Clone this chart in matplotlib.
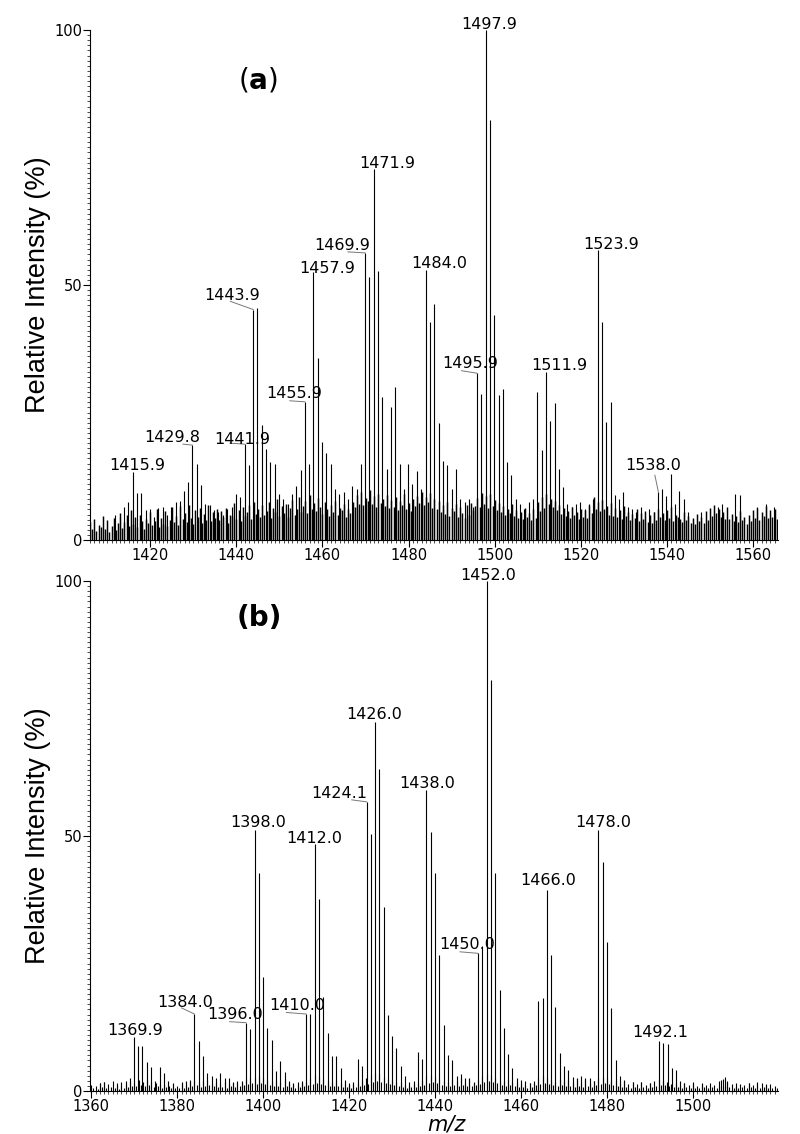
import numpy as np
import matplotlib
matplotlib.use('Agg')
from matplotlib import pyplot as plt
from matplotlib.ticker import MultipleLocator

# ---- spectrum (a): centroid peaks, m/z and relative intensity (%)
mz_a = [1411.9, 1412.9, 1413.9, 1414.9, 1415.9, 1416.9, 1417.9, 1418.9, 1419.9, 1420.9,
        1421.9, 1422.9, 1423.9, 1424.9, 1425.9, 1426.9, 1427.9, 1428.8, 1429.8, 1430.8,
        1431.8, 1432.8, 1433.8, 1434.8, 1435.8, 1436.8, 1437.8, 1438.9, 1439.9, 1440.9,
        1441.9, 1442.9, 1443.9, 1444.9, 1445.9, 1446.9, 1447.9, 1448.9, 1449.9, 1450.9,
        1451.9, 1452.9, 1453.9, 1454.9, 1455.9, 1456.9, 1457.9, 1458.9, 1459.9, 1460.9,
        1461.9, 1462.9, 1463.9, 1464.9, 1465.9, 1466.9, 1467.9, 1468.9, 1469.9, 1470.9,
        1471.9, 1472.9, 1473.9, 1474.9, 1475.9, 1476.9, 1477.9, 1478.9, 1479.9, 1480.9,
        1481.9, 1482.9, 1484.0, 1485.0, 1486.0, 1487.0, 1488.0, 1489.0, 1490.0, 1491.0,
        1492.0, 1493.0, 1494.0, 1494.9, 1495.9, 1496.9, 1497.9, 1498.9, 1499.9, 1500.9,
        1501.9, 1502.9, 1503.9, 1504.9, 1505.9, 1506.9, 1507.9, 1508.9, 1509.9, 1510.9,
        1511.9, 1512.9, 1513.9, 1514.9, 1515.9, 1516.9, 1517.9, 1518.9, 1519.9, 1520.9,
        1521.9, 1522.9, 1523.9, 1524.9, 1525.9, 1526.9, 1527.9, 1528.9, 1529.9, 1530.9,
        1531.9, 1532.9, 1533.9, 1534.9, 1535.9, 1536.9, 1538.0, 1538.9, 1539.9, 1540.9,
        1541.9, 1542.9, 1543.9, 1544.9, 1547.9, 1551.9, 1552.9, 1555.9, 1556.9, 1560.9,
        1562.9, 1564.9]
int_a = [5.0, 4.6, 6.5, 7.5, 13.3, 9.2, 9.2, 5.9, 6.0, 4.5,
         6.3, 6.4, 5.0, 6.5, 7.5, 7.7, 9.7, 11.4, 18.6, 15.0,
         10.8, 7.0, 6.9, 5.8, 5.5, 5.0, 6.0, 6.5, 9.0, 8.5,
         18.8, 14.7, 45.2, 45.4, 22.5, 17.8, 15.2, 15.0, 9.0, 8.0,
         7.0, 9.0, 10.5, 13.7, 27.1, 15.0, 52.5, 35.6, 19.3, 17.1,
         15.0, 10.0, 9.0, 9.5, 8.0, 10.5, 10.0, 15.0, 56.3, 51.6,
         72.7, 52.8, 28.0, 14.0, 26.0, 30.0, 15.0, 10.0, 15.0, 11.0,
         13.5, 10.0, 53.0, 42.8, 46.3, 22.9, 15.5, 14.7, 10.0, 13.9,
         8.0, 7.5, 8.0, 6.5, 32.7, 28.6, 100.0, 82.4, 44.1, 28.4,
         29.7, 15.2, 12.7, 8.0, 7.0, 6.0, 7.5, 8.0, 29.1, 17.6,
         33.0, 23.4, 26.9, 14.0, 10.4, 7.0, 6.5, 7.0, 7.5, 6.0,
         7.0, 8.0, 56.9, 42.8, 23.2, 27.1, 8.8, 8.0, 9.5, 6.5,
         6.0, 5.5, 6.5, 5.0, 6.0, 5.5, 9.5, 10.1, 8.7, 12.9,
         7.0, 9.6, 8.1, 5.5, 5.5, 6.5, 7.0, 9.1, 8.8, 6.5,
         7.0, 6.5]

# baseline noise (a), one reading every 0.5 m/z from 1406.0
noise_a_start = 1406.0
noise_a = [3.5, 2.1, 4.2, 1.8, 3.0, 2.6, 4.8, 2.2, 3.9, 1.5, 2.8, 4.4, 2.0, 3.3, 5.2, 2.4, 3.6, 4.9, 2.7, 5.8,
           3.1, 4.6, 2.5, 5.0, 3.8, 2.2, 4.1, 3.4, 5.5, 2.9, 3.7, 6.1, 2.6, 4.3, 3.2, 5.7, 2.8, 4.0, 6.4, 3.5,
           4.8, 3.0, 6.6, 4.1, 5.3, 3.6, 6.9, 4.4, 3.2, 5.8, 4.6, 6.2, 3.4, 5.1, 4.0, 6.8, 3.7, 5.5, 4.3, 6.0,
           3.9, 5.6, 4.5, 6.3, 3.3, 5.0, 4.8, 7.2, 4.1, 5.9, 3.8, 6.5, 4.7, 5.4, 6.8, 4.2, 7.5, 5.1, 6.0, 4.6,
           6.9, 4.9, 5.7, 7.4, 4.3, 6.2, 5.5, 8.1, 4.8, 6.6, 5.2, 7.0, 4.5, 6.3, 7.8, 5.0, 6.1, 8.4, 5.4, 6.7,
           7.6, 5.3, 8.8, 6.0, 7.2, 5.6, 8.2, 6.4, 5.1, 7.5, 6.1, 4.7, 6.9, 5.4, 7.7, 4.9, 6.3, 5.8, 7.1, 4.6,
           6.0, 5.2, 7.4, 6.5, 8.9, 7.1, 9.5, 6.8, 8.3, 7.6, 9.8, 7.0, 8.6, 6.4, 9.1, 7.3, 8.0, 6.7, 8.8, 6.2,
           7.9, 6.5, 8.4, 5.9, 7.6, 6.8, 9.0, 6.1, 7.3, 5.7, 8.1, 6.6, 8.7, 7.2, 9.4, 6.9, 8.5, 7.4, 9.2, 6.3,
           8.0, 6.0, 7.7, 5.5, 6.9, 5.1, 7.4, 4.8, 6.2, 5.6, 7.1, 4.6, 6.5, 5.3, 4.4, 6.8, 5.0, 7.3, 5.9, 6.6,
           8.2, 6.4, 9.3, 7.0, 8.6, 6.3, 9.0, 6.7, 7.8, 5.8, 7.2, 5.4, 6.6, 4.9, 6.0, 5.2, 7.1, 4.7, 5.8, 4.3,
           5.5, 4.1, 6.3, 4.6, 5.2, 3.9, 6.0, 4.4, 7.4, 5.6, 8.5, 6.2, 9.1, 7.0, 8.0, 6.5, 7.6, 5.9, 6.8, 5.1,
           6.2, 4.8, 5.7, 4.3, 6.5, 4.9, 5.4, 4.1, 6.1, 4.6, 5.8, 4.4, 6.9, 5.3, 8.4, 6.1, 7.5, 5.7, 7.9, 6.0,
           6.6, 5.0, 7.2, 4.7, 6.3, 4.5, 5.9, 4.2, 6.7, 4.8, 5.5, 3.9, 5.1, 4.4, 6.0, 3.8, 5.3, 4.1, 5.6, 3.6,
           4.9, 3.4, 5.4, 4.0, 6.1, 4.5, 5.2, 3.9, 5.8, 4.3, 6.4, 3.7, 5.0, 4.6, 4.2, 3.5, 5.5, 3.9, 4.7, 3.3,
           4.4, 3.1, 5.1, 3.8, 4.6, 3.4, 5.7, 4.0, 6.2, 4.8, 6.8, 5.3, 6.0, 4.5, 5.4, 4.1, 6.5, 4.2, 5.1, 3.7,
           4.8, 3.5, 5.6, 3.9, 4.5, 3.2, 5.0, 3.8, 5.9, 4.3, 6.3, 4.0, 5.5, 4.7, 6.6, 4.4, 5.8, 4.6, 6.1, 4.2]

labels_a = [1415.9, 1429.8, 1441.9, 1443.9, 1455.9, 1457.9, 1469.9,
            1471.9, 1484.0, 1495.9, 1497.9, 1511.9, 1523.9, 1538.0]

# ---- spectrum (b)
mz_b = [1362.0, 1363.0, 1366.0, 1367.0, 1368.0, 1368.9, 1369.9, 1370.9, 1371.9, 1372.9,
        1373.9, 1374.9, 1375.9, 1376.9, 1377.9, 1379.0, 1381.0, 1382.0, 1383.0, 1384.0,
        1385.0, 1386.0, 1387.0, 1388.0, 1389.0, 1390.0, 1391.0, 1392.0, 1393.0, 1394.0,
        1395.0, 1396.0, 1397.0, 1398.0, 1399.0, 1400.0, 1401.0, 1402.0, 1403.0, 1404.0,
        1405.0, 1406.0, 1407.0, 1408.0, 1409.0, 1410.0, 1411.0, 1412.0, 1413.0, 1414.0,
        1415.0, 1416.0, 1417.0, 1418.0, 1419.0, 1420.0, 1421.0, 1422.1, 1423.1, 1424.1,
        1425.1, 1426.0, 1427.0, 1428.0, 1429.0, 1430.0, 1431.0, 1432.0, 1433.0, 1434.0,
        1435.0, 1436.0, 1437.0, 1438.0, 1439.0, 1440.0, 1441.0, 1442.0, 1443.0, 1444.0,
        1445.0, 1446.0, 1447.0, 1448.0, 1449.0, 1450.0, 1451.0, 1452.0, 1453.0, 1454.0,
        1455.0, 1456.0, 1457.0, 1458.0, 1459.0, 1460.0, 1461.0, 1462.0, 1463.0, 1464.0,
        1465.0, 1466.0, 1467.0, 1468.0, 1469.0, 1470.0, 1471.0, 1472.0, 1473.0, 1474.0,
        1475.0, 1476.0, 1477.0, 1478.0, 1479.0, 1480.0, 1481.0, 1482.0, 1483.0, 1484.0,
        1486.0, 1488.0, 1490.0, 1492.1, 1493.1, 1494.1, 1495.1, 1496.1, 1497.1, 1498.0,
        1500.0, 1502.0, 1506.5, 1507.4, 1508.0, 1510.0, 1513.0, 1515.0, 1517.0]
int_b = [1.5, 1.8, 1.5, 1.8, 2.0, 2.5, 10.5, 8.8, 8.9, 5.6,
         4.7, 2.0, 4.8, 3.5, 2.0, 1.5, 1.8, 2.0, 2.2, 15.1,
         9.8, 6.9, 3.5, 2.9, 2.5, 3.5, 2.5, 2.6, 1.8, 1.6,
         1.8, 13.4, 12.1, 51.2, 42.7, 22.3, 12.3, 10.0, 4.0, 5.9,
         3.8, 2.0, 1.6, 1.8, 1.9, 15.1, 15.1, 48.4, 37.6, 18.5,
         11.4, 6.9, 6.8, 4.5, 2.2, 1.6, 1.8, 6.2, 4.9, 56.7,
         50.4, 72.4, 63.1, 36.1, 14.9, 10.8, 8.4, 4.9, 2.9, 1.8,
         2.0, 7.6, 6.2, 59.0, 50.8, 42.7, 26.7, 12.9, 7.1, 6.1,
         2.9, 3.3, 2.5, 2.5, 1.8, 27.0, 28.4, 100.0, 80.6, 42.7,
         19.8, 12.3, 7.2, 4.5, 2.5, 2.2, 2.0, 1.6, 1.5, 17.7,
         18.2, 39.4, 26.7, 16.5, 7.5, 4.9, 4.1, 2.8, 2.5, 3.0,
         2.6, 2.5, 2.0, 51.2, 45.0, 29.3, 16.2, 6.1, 2.9, 2.2,
         1.8, 1.7, 1.5, 9.8, 9.5, 9.3, 4.5, 4.1, 2.0, 1.6,
         1.8, 1.5, 2.2, 2.7, 2.0, 1.6, 1.5, 1.7, 1.4]

noise_b_start = 1360.0
noise_b = [1.2, 0.6, 0.9, 0.4, 1.5, 0.7, 1.8, 0.5, 1.3, 0.8, 2.0, 0.6, 1.1, 0.4, 0.9, 0.5, 1.4, 0.7, 1.9, 1.0,
           1.6, 0.9, 2.1, 1.2, 1.8, 1.0, 2.3, 1.1, 1.7, 0.8, 1.5, 0.9, 1.3, 0.6, 1.2, 0.7, 1.0, 0.5, 1.4, 0.6,
           0.9, 0.5, 1.3, 0.6, 1.1, 0.8, 1.7, 0.9, 2.0, 1.1, 1.6, 0.8, 1.9, 1.0, 2.2, 1.2, 1.5, 0.9, 1.8, 0.7,
           1.4, 0.8, 1.7, 0.6, 1.3, 0.9, 1.6, 0.7, 1.9, 1.0, 2.0, 1.2, 2.4, 1.3, 2.6, 1.5, 2.8, 1.4, 3.0, 1.6,
           2.5, 1.3, 2.2, 1.1, 1.9, 1.0, 2.1, 0.9, 1.8, 0.8, 2.3, 1.0, 1.6, 0.7, 1.4, 0.6, 1.2, 0.8, 1.5, 0.9,
           1.8, 1.2, 2.6, 1.4, 3.1, 1.6, 2.7, 1.3, 2.4, 1.2, 2.0, 1.0, 1.7, 0.9, 2.2, 1.0, 1.5, 0.8, 1.3, 0.7,
           1.1, 0.6, 1.4, 0.7, 1.6, 0.9, 2.0, 1.1, 2.5, 1.4, 3.2, 1.8, 3.6, 2.0, 3.3, 1.7, 2.8, 1.5, 2.4, 1.3,
           2.1, 1.1, 1.8, 0.9, 1.5, 0.8, 1.2, 0.6, 1.0, 0.7, 1.3, 0.8, 1.6, 0.9, 2.2, 1.2, 2.9, 1.5, 3.1, 1.7,
           2.7, 1.5, 2.3, 1.2, 2.0, 1.0, 1.7, 0.9, 2.4, 1.1, 1.9, 1.0, 2.6, 1.2, 1.8, 0.9, 2.3, 1.0, 1.6, 1.1,
           2.2, 1.4, 2.9, 1.7, 3.4, 2.0, 3.1, 1.8, 2.6, 1.5, 2.2, 1.2, 1.9, 1.0, 2.4, 1.1, 1.7, 0.9, 1.5, 0.8,
           1.3, 0.7, 1.1, 0.6, 1.5, 0.8, 2.0, 1.1, 2.6, 1.4, 2.9, 1.6, 2.5, 1.3, 2.1, 1.2, 1.8, 1.0, 2.3, 1.1,
           1.9, 1.0, 2.2, 0.9, 1.7, 0.8, 2.4, 1.0, 1.6, 0.7, 2.1, 0.9, 1.5, 0.8, 1.9, 1.1, 2.6, 1.4, 2.8, 1.5,
           2.5, 1.3, 2.2, 1.1, 1.9, 0.9, 1.6, 0.8, 2.0, 0.7, 1.4, 0.6, 1.8, 0.8, 1.3, 0.5, 1.7, 0.7, 1.2, 0.6,
           1.5, 0.8, 1.9, 1.0, 2.3, 1.2, 2.0, 1.1, 1.7, 0.9, 1.4, 0.7, 1.6, 0.8, 1.2, 0.6, 1.5, 0.7, 1.1, 0.5,
           1.3, 0.6, 1.0, 0.5, 1.4, 0.7, 1.2, 0.6, 1.6, 0.8, 1.1, 0.5, 1.9, 0.9, 2.3, 1.0, 1.7, 0.8, 1.3, 0.6,
           1.0, 0.5, 1.4, 0.7, 1.2, 0.6, 1.5, 0.8, 1.1, 0.5, 1.3, 0.6, 1.6, 0.7, 1.2, 0.5, 1.4, 0.6, 1.0, 0.5]

labels_b = [1369.9, 1384.0, 1396.0, 1398.0, 1410.0, 1412.0, 1424.1,
            1426.0, 1438.0, 1450.0, 1452.0, 1466.0, 1478.0, 1492.1]

# ---- layout of the peak labels (text anchor, data coords) and leader starts
text_pos_a = [(1416.9, 13.8), (1425.0, 19.2), (1441.4, 18.9), (1438.9, 47.1),
              (1453.5, 27.8), (1461.0, 52.4), (1464.5, 56.9), (1475.0, 72.9),
              (1487.1, 53.3), (1494.3, 33.7), (1498.7, 100.3), (1514.9, 33.3),
              (1527.0, 57.1), (1536.8, 13.7)]
leader_a = {1429.8: (1427.6, 18.8), 1441.9: (1438.5, 19.0), 1443.9: (1438.6, 46.8),
            1455.9: (1452.4, 27.3), 1469.9: (1465.9, 56.5), 1495.9: (1492.3, 33.2),
            1538.0: (1537.2, 12.7)}
text_pos_b = [(1370.2, 11.0), (1381.8, 16.5), (1393.4, 14.1), (1398.9, 51.8),
              (1408.0, 15.9), (1411.9, 48.7), (1417.7, 57.5), (1425.8, 72.9),
              (1438.2, 59.4), (1447.5, 27.8), (1452.4, 100.3), (1466.3, 40.4),
              (1479.1, 51.7), (1492.5, 10.6)]
leader_b = {1384.0: (1381.0, 16.3), 1396.0: (1392.2, 13.6), 1410.0: (1405.4, 15.4),
            1424.1: (1420.6, 57.1), 1450.0: (1445.8, 27.3)}


def draw_panel(ax, mz, inten, noise_start, noise, labels, text_pos, leaders,
               xlim, xticks, noise_lw):
    nx = noise_start + 0.5 * np.arange(len(noise))
    ax.vlines(nx, 0, noise, color='black', lw=noise_lw)
    ax.vlines(mz, 0, inten, color='black', lw=0.8)
    height = dict(zip(mz, inten))
    for m, (tx, ty) in zip(labels, text_pos):
        ax.text(tx, ty, '%.1f' % m, ha='center', va='baseline',
                fontsize=11.5, family='DejaVu Sans', clip_on=False)
        if m in leaders:
            sx, sy = leaders[m]
            ax.plot([sx, m], [sy, height[m]], color='#777777', lw=0.7)

    ax.set_xlim(*xlim)
    ax.set_ylim(0, 100)
    ax.spines['top'].set_visible(False)
    ax.spines['right'].set_visible(False)
    ax.set_xticks(xticks)
    ax.set_yticks([0, 50, 100])
    ax.xaxis.set_minor_locator(MultipleLocator(1))
    ax.yaxis.set_minor_locator(MultipleLocator(1))
    ax.tick_params(which='major', length=5, width=0.8, pad=0.5)
    ax.tick_params(which='minor', length=2.5, width=0.5)
    ax.tick_params(axis='x', labelsize=10.5)
    ax.tick_params(axis='y', labelsize=10.5)


fig = plt.figure(figsize=(8, 11.34), dpi=100)
ax_a = fig.add_axes([0.1125, 0.5238, 0.86, 0.4497])
ax_b = fig.add_axes([0.1125, 0.0379, 0.86, 0.4497])

draw_panel(ax_a, mz_a, int_a, noise_a_start, noise_a, labels_a, text_pos_a,
           leader_a, (1406.0, 1565.8), [1420, 1440, 1460, 1480, 1500, 1520, 1540, 1560], 1.05)
draw_panel(ax_b, mz_b, int_b, noise_b_start, noise_b, labels_b, text_pos_b,
           leader_b, (1359.7, 1519.8), [1360, 1380, 1400, 1420, 1440, 1460, 1480, 1500], 0.8)

for ax in (ax_a, ax_b):
    pos = ax.get_position()
    fig.text(0.0475, pos.y0 + pos.height / 2, 'Relative Intensity (%)',
             rotation=90, ha='center', va='center', fontsize=19.5,
             family='Liberation Sans')

fig.text(0.3225, 0.9295, r'($\mathbf{a}$)', ha='center', va='center', fontsize=20)
fig.text(0.324, 0.455, '(b)', ha='center', va='center', fontsize=20, fontweight='bold')
fig.text(0.5575, 0.0085, 'm/z', ha='center', va='center', fontsize=15, style='italic')

fig.savefig('out.png', dpi=100)
